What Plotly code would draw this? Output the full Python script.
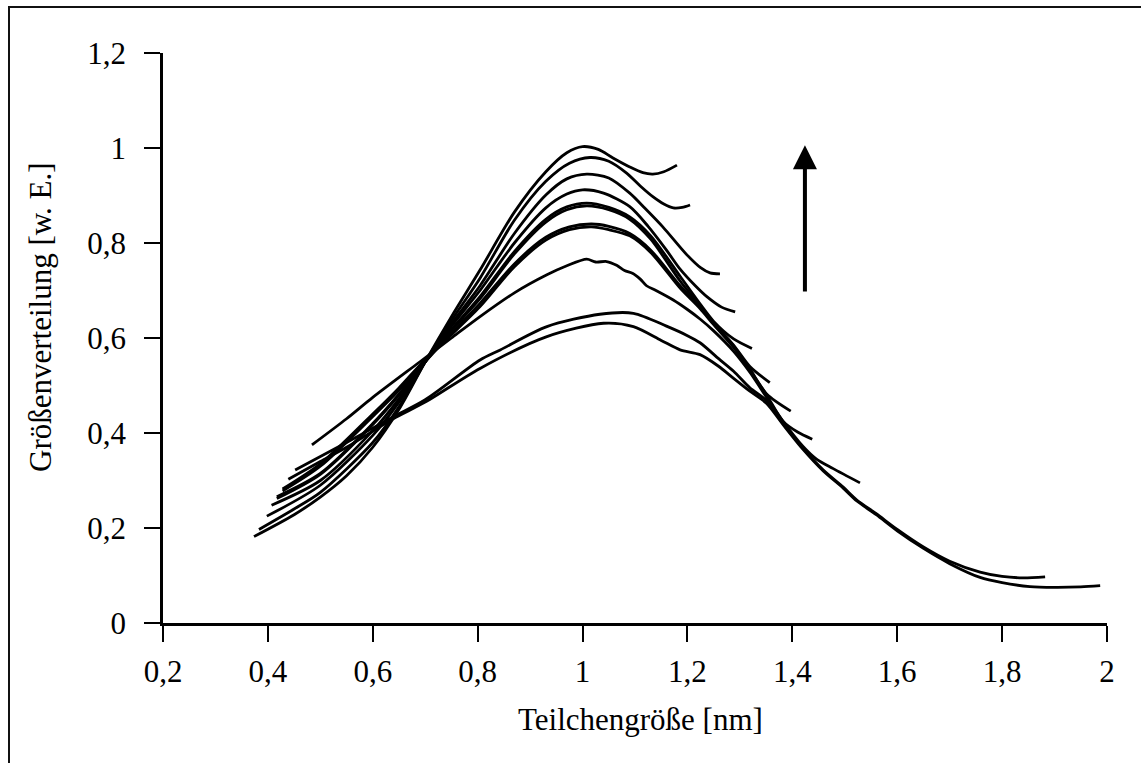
import plotly.graph_objects as go

# Particle size distributions (x: particle size in nm, y: distribution in arbitrary units)
a_x = [0.3735, 0.45, 0.50, 0.55, 0.60, 0.65, 0.70, 0.75, 0.8045, 0.87, 0.93, 0.97, 1.00, 1.03, 1.058, 1.09, 1.115, 1.134, 1.155, 1.18]
a_y = [0.182, 0.228, 0.265, 0.31, 0.37, 0.45, 0.55, 0.645, 0.743, 0.865, 0.950, 0.990, 1.003, 0.997, 0.979, 0.960, 0.948, 0.945, 0.950, 0.964]

b_x = [0.383, 0.45, 0.50, 0.60, 0.65, 0.70, 0.75, 0.8045, 0.87, 0.93, 0.975, 1.014, 1.05, 1.084, 1.11, 1.134, 1.155, 1.173, 1.19, 1.205]
b_y = [0.197, 0.24, 0.275, 0.38, 0.455, 0.55, 0.637, 0.726, 0.848, 0.930, 0.968, 0.980, 0.972, 0.947, 0.920, 0.8975, 0.882, 0.874, 0.875, 0.880]

c_x = [0.398, 0.50, 0.60, 0.65, 0.70, 0.75, 0.8045, 0.87, 0.93, 0.97, 1.008, 1.05, 1.09, 1.12, 1.153, 1.199, 1.225, 1.243, 1.262]
c_y = [0.225, 0.29, 0.395, 0.465, 0.55, 0.63, 0.71, 0.82, 0.901, 0.935, 0.945, 0.937, 0.905, 0.872, 0.834, 0.775, 0.748, 0.737, 0.735]

d_x = [0.407, 0.50, 0.60, 0.65, 0.70, 0.75, 0.8045, 0.87, 0.93, 0.97, 1.00, 1.04, 1.09, 1.125, 1.16, 1.186, 1.215, 1.237, 1.265, 1.291]
d_y = [0.248, 0.30, 0.405, 0.472, 0.55, 0.625, 0.70, 0.800, 0.874, 0.903, 0.912, 0.905, 0.8765, 0.835, 0.785, 0.745, 0.71, 0.687, 0.665, 0.655]

e_x = [0.417, 0.50, 0.60, 0.65, 0.70, 0.75, 0.8045, 0.87, 0.93, 0.97, 1.008, 1.05, 1.09, 1.13, 1.186, 1.224, 1.25, 1.288, 1.323]
e_y = [0.266, 0.315, 0.42, 0.482, 0.55, 0.618, 0.687, 0.782, 0.850, 0.876, 0.884, 0.875, 0.855, 0.815, 0.73, 0.672, 0.635, 0.598, 0.578]

f_x = [0.417, 0.50, 0.60, 0.65, 0.70, 0.75, 0.8045, 0.87, 0.93, 0.97, 1.008, 1.05, 1.09, 1.13, 1.186, 1.224, 1.25, 1.288, 1.319, 1.357]
f_y = [0.262, 0.313, 0.418, 0.48, 0.55, 0.616, 0.683, 0.777, 0.844, 0.870, 0.878, 0.870, 0.850, 0.808, 0.72, 0.668, 0.632, 0.585, 0.54, 0.506]

g_x = [0.428, 0.50, 0.60, 0.65, 0.70, 0.75, 0.8045, 0.87, 0.93, 0.975, 1.017, 1.05, 1.09, 1.13, 1.186, 1.224, 1.25, 1.288, 1.319, 1.351, 1.397]
g_y = [0.278, 0.33, 0.435, 0.49, 0.55, 0.61, 0.673, 0.756, 0.812, 0.834, 0.840, 0.835, 0.820, 0.785, 0.71, 0.665, 0.63, 0.583, 0.535, 0.482, 0.446]

h_x = [0.428, 0.50, 0.60, 0.65, 0.70, 0.75, 0.8045, 0.87, 0.93, 0.975, 1.017, 1.05, 1.09, 1.13, 1.186, 1.224, 1.25, 1.288, 1.319, 1.351, 1.382, 1.41, 1.438]
h_y = [0.282, 0.335, 0.44, 0.495, 0.555, 0.607, 0.666, 0.750, 0.806, 0.828, 0.834, 0.828, 0.815, 0.78, 0.705, 0.662, 0.628, 0.58, 0.532, 0.48, 0.425, 0.402, 0.387]

i_x = [0.484, 0.55, 0.60, 0.69, 0.75, 0.8045, 0.87, 0.932, 0.97, 1.008, 1.025, 1.046, 1.065, 1.08, 1.096, 1.11, 1.122, 1.14, 1.173, 1.20, 1.224, 1.25, 1.288, 1.319, 1.351, 1.382, 1.42, 1.446, 1.478, 1.529]
i_y = [0.375, 0.43, 0.475, 0.55, 0.60, 0.645, 0.695, 0.733, 0.752, 0.766, 0.760, 0.761, 0.753, 0.742, 0.736, 0.724, 0.710, 0.700, 0.68, 0.66, 0.64, 0.615, 0.572, 0.528, 0.475, 0.425, 0.372, 0.345, 0.325, 0.295]

j_x = [0.452, 0.55, 0.639, 0.70, 0.8045, 0.843, 0.932, 1.033, 1.097, 1.16, 1.20, 1.224, 1.26, 1.288, 1.319, 1.351, 1.382, 1.42, 1.459, 1.497, 1.523, 1.56, 1.60, 1.65, 1.70, 1.758, 1.80, 1.84, 1.882]
j_y = [0.322, 0.38, 0.434, 0.47, 0.5537, 0.575, 0.624, 0.65, 0.652, 0.625, 0.605, 0.59, 0.556, 0.53, 0.495, 0.468, 0.42, 0.368, 0.322, 0.286, 0.259, 0.23, 0.197, 0.16, 0.13, 0.107, 0.098, 0.095, 0.097]

k_x = [0.439, 0.50, 0.55, 0.639, 0.70, 0.8045, 0.932, 1.04, 1.097, 1.15, 1.186, 1.224, 1.26, 1.288, 1.319, 1.351, 1.382, 1.42, 1.459, 1.497, 1.523, 1.56, 1.60, 1.65, 1.70, 1.758, 1.80, 1.853, 1.90, 1.95, 1.987]
k_y = [0.3025, 0.34, 0.37, 0.43, 0.465, 0.536, 0.603, 0.631, 0.624, 0.595, 0.575, 0.565, 0.54, 0.515, 0.488, 0.462, 0.418, 0.366, 0.32, 0.284, 0.257, 0.228, 0.194, 0.157, 0.125, 0.096, 0.085, 0.0765, 0.075, 0.076, 0.0786]

series = [(a_x, a_y), (b_x, b_y), (c_x, c_y), (d_x, d_y), (e_x, e_y), (f_x, f_y),
          (g_x, g_y), (h_x, h_y), (i_x, i_y), (j_x, j_y), (k_x, k_y)]

x_tick_vals = [0.2, 0.4, 0.6, 0.8, 1.0, 1.2, 1.4, 1.6, 1.8, 2.0]
x_tick_text = ["0,2", "0,4", "0,6", "0,8", "1", "1,2", "1,4", "1,6", "1,8", "2"]
y_tick_vals = [0, 0.2, 0.4, 0.6, 0.8, 1.0, 1.2]
y_tick_text = ["0", "0,2", "0,4", "0,6", "0,8", "1", "1,2"]

x_title = "Teilchengröße [nm]"
y_title = "Größenverteilung [w. E.]"

# Trend arrow (tail -> head) in data coordinates
arrow_x = 1.424
arrow_tail_y = 0.695
arrow_head_y = 1.006

FONT = "Liberation Serif, Times New Roman, serif"
FONT_SIZE = 31

fig = go.Figure()
for xs, ys in series:
    fig.add_trace(go.Scatter(
        x=xs, y=ys, mode="lines",
        line=dict(color="black", width=2.8, shape="spline", smoothing=0.8),
        showlegend=False, hoverinfo="skip",
    ))

fig.add_annotation(
    x=arrow_x, y=arrow_head_y, ax=arrow_x, ay=arrow_tail_y,
    xref="x", yref="y", axref="x", ayref="y",
    showarrow=True, arrowhead=2, arrowsize=1.2, arrowwidth=4, arrowcolor="black", text="",
)

# Layout geometry in pixels
W, H = 1141, 763
ML, MR, MT, MB = 163, 34, 53, 140
pw, ph = W - ML - MR, H - MT - MB
def px_to_paper_x(px):
    return (px - ML) / pw
def px_to_paper_y(py):
    return (H - MB - py) / ph

# Axis titles
fig.add_annotation(
    text=x_title, xref="paper", yref="paper",
    x=px_to_paper_x(640), y=px_to_paper_y(719), xanchor="center", yanchor="middle",
    showarrow=False, font=dict(family=FONT, size=FONT_SIZE, color="black"),
)
fig.add_annotation(
    text=y_title, xref="paper", yref="paper", textangle=-90,
    x=px_to_paper_x(40), y=px_to_paper_y(317), xanchor="center", yanchor="middle",
    showarrow=False, font=dict(family=FONT, size=FONT_SIZE, color="black"),
)

# Outer frame around the figure
fig.add_shape(
    type="rect", xref="paper", yref="paper",
    x0=px_to_paper_x(9), x1=px_to_paper_x(1160),
    y0=px_to_paper_y(790), y1=px_to_paper_y(7),
    line=dict(color="#111111", width=2), fillcolor="rgba(0,0,0,0)", layer="above",
)

axis_common = dict(
    showline=True, linecolor="black", linewidth=2.5,
    ticks="outside", ticklen=16, tickwidth=2, tickcolor="black",
    showgrid=False, zeroline=False,
    tickfont=dict(family=FONT, size=FONT_SIZE, color="black"),
)

fig.update_layout(
    width=W, height=H,
    margin=dict(l=ML, r=MR, t=MT, b=MB),
    paper_bgcolor="white", plot_bgcolor="white",
    font=dict(family=FONT, size=FONT_SIZE, color="black"),
    xaxis=dict(range=[0.2, 2.0], tickvals=x_tick_vals, ticktext=x_tick_text,
               ticklabelstandoff=3, **axis_common),
    yaxis=dict(range=[0, 1.2], tickvals=y_tick_vals, ticktext=y_tick_text,
               ticklabelstandoff=12, **axis_common),
)

fig.write_html("out.html")
